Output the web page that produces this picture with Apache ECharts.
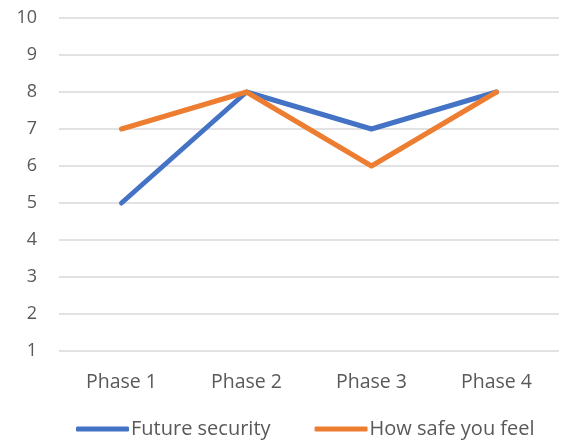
<!DOCTYPE html>
<html>
<head>
  <meta charset="utf-8">
  <title>Phases</title>
  <script src="https://cdn.jsdelivr.net/npm/echarts@6/dist/echarts.min.js"></script>
  <style>
    html, body { margin: 0; padding: 0; background: #fff; }
    #chart { width: 561px; height: 445px; }
  </style>
</head>
<body>
  <div id="chart"></div>
  <script>
    const phases = ['Phase 1', 'Phase 2', 'Phase 3', 'Phase 4'];
    const futureSecurity = [5, 8, 7, 8];
    const howSafeYouFeel = [7, 8, 6, 8];

    const chart = echarts.init(document.getElementById('chart'));
    const font = 'Open Sans, Liberation Sans, sans-serif';

    chart.setOption({
      animation: false,
      grid: { left: 59, right: 2, top: 18, bottom: 94 },
      legend: {
        bottom: 1,
        left: 71,
        itemWidth: 53,
        itemHeight: 5,
        itemGap: 44,
        icon: 'roundRect',
        textStyle: { color: '#595959', fontSize: 20, fontFamily: font, padding: [0, 0, 0, -3] },
        data: ['Future security', 'How safe you feel']
      },
      xAxis: {
        type: 'category',
        data: phases,
        axisLine: { show: false },
        axisTick: { show: false },
        axisLabel: { color: '#595959', fontSize: 19.5, fontFamily: font, margin: 21 }
      },
      yAxis: {
        type: 'value',
        min: 1,
        max: 10,
        interval: 1,
        axisLine: { show: false },
        axisTick: { show: false },
        splitLine: { lineStyle: { color: '#d9d9d9', width: 1.5 } },
        axisLabel: { color: '#595959', fontSize: 18, fontFamily: font, margin: 22 }
      },
      series: [
        {
          name: 'Future security',
          type: 'line',
          data: futureSecurity,
          symbol: 'none',
          lineStyle: { color: '#4472C4', width: 5, cap: 'round', join: 'round' },
          itemStyle: { color: '#4472C4' }
        },
        {
          name: 'How safe you feel',
          type: 'line',
          data: howSafeYouFeel,
          symbol: 'none',
          lineStyle: { color: '#ED7D31', width: 5, cap: 'round', join: 'round' },
          itemStyle: { color: '#ED7D31' }
        }
      ]
    });
  </script>
</body>
</html>
